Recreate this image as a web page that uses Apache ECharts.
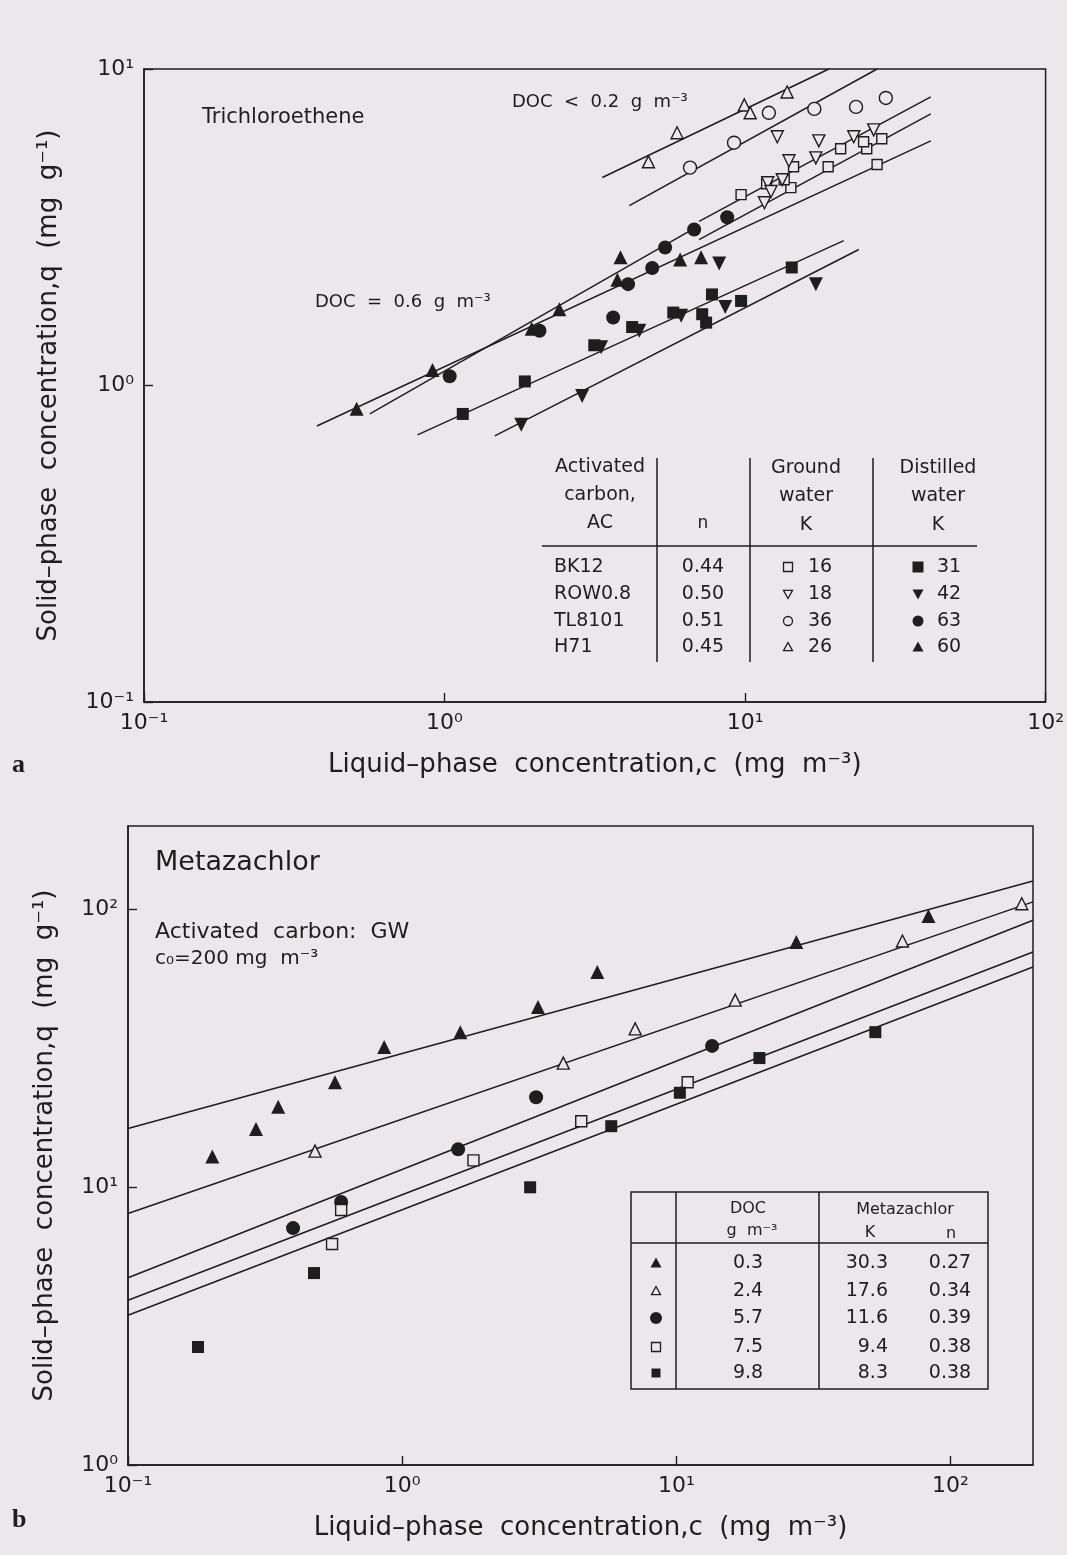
<!DOCTYPE html>
<html>
<head>
<meta charset="utf-8">
<script src="https://cdn.jsdelivr.net/npm/echarts@6/dist/echarts.min.js"></script>
<style>
  html, body { margin: 0; padding: 0; background: #ece7ea; }
  #chart { width: 1067px; height: 1555px; }
</style>
</head>
<body>
<div id="chart"></div>
<script>
// ---------- (a) Trichloroethene: c (mg m^-3), q (mg g^-1) ----------
// ground water, open symbols
const aGwBK12 = [[9.70,4.01],[11.8,4.34],[14.5,4.91],[14.2,4.22],[18.9,4.91],[20.8,5.60],[25.4,5.60],[28.5,6.02],[24.8,5.89],[27.5,4.99],[13.5,4.47]];
const aGwROW  = [[12.8,6.11],[17.6,5.93],[14.0,5.13],[17.2,5.24],[23.0,6.11],[26.8,6.42],[11.9,4.37],[11.6,3.78],[12.2,4.10],[13.3,4.47]];
const aGwTL   = [[6.56,4.88],[9.19,5.85],[12.0,7.27],[17.0,7.48],[23.4,7.59],[29.4,8.10]];
const aGwH71  = [[4.77,5.09],[5.94,6.29],[9.94,7.70],[10.4,7.27],[13.8,8.46]];
// distilled water, filled symbols
const aDwBK12 = [[1.15,0.813],[1.85,1.03],[3.15,1.34],[4.21,1.53],[5.77,1.70],[7.20,1.68],[7.42,1.58],[7.76,1.94],[9.70,1.85],[14.3,2.36]];
const aDwROW  = [[1.80,0.751],[2.87,0.927],[3.32,1.32],[4.45,1.49],[6.13,1.66],[8.59,1.77],[8.20,2.43],[17.2,2.09]];
const aDwTL   = [[1.04,1.07],[2.07,1.49],[3.64,1.64],[4.08,2.09],[4.91,2.35],[5.42,2.73],[6.77,3.11],[8.72,3.40]];
const aDwH71  = [[0.510,0.844],[0.912,1.12],[1.95,1.51],[2.41,1.74],[3.76,2.16],[3.85,2.54],[6.08,2.50],[7.14,2.54]];
// isotherm lines (end points)
const aFitGwH71  = [[3.35,4.54],[19.0,10.0]];
const aFitGwTL   = [[4.12,3.70],[27.5,10.0]];
const aFitGwROW  = [[7.03,3.30],[41.5,8.16]];
const aFitGwBK12 = [[7.03,2.89],[41.5,7.21]];
const aFitDwH71  = [[0.376,0.745],[41.5,5.93]];
const aFitDwTL   = [[0.564,0.813],[7.03,3.20]];
const aFitDwBK12 = [[0.813,0.698],[21.3,2.87]];
const aFitDwROW  = [[1.47,0.693],[23.9,2.69]];
// table
const acNames = ['BK12','ROW0.8','TL8101','H71'];
const acN     = ['0.44','0.50','0.51','0.45'];
const acKgw   = ['16','18','36','26'];
const acKdw   = ['31','42','63','60'];

// ---------- (b) Metazachlor ----------
const bDoc = ['0.3','2.4','5.7','7.5','9.8'];
const bK   = [30.3, 17.6, 11.6, 9.4, 8.3];
const bN   = [0.27, 0.34, 0.39, 0.38, 0.38];
const bDoc03 = [[0.203,12.9],[0.293,16.2],[0.353,19.5],[0.569,23.9],[0.860,32.0],[1.63,36.2],[3.13,44.6],[5.15,59.6],[27.4,76.4],[83.1,94.8]];
const bDoc24 = [[0.481,13.5],[3.87,28.0],[7.08,37.2],[16.4,47.2],[66.8,77.1],[182,105]];
const bDoc57 = [[0.400,7.13],[0.599,8.85],[1.60,13.7],[3.08,21.1],[13.5,32.3]];
const bDoc75 = [[0.555,6.25],[0.599,8.28],[1.82,12.5],[4.50,17.3],[11.0,23.9]];
const bDoc98 = [[0.180,2.66],[0.477,4.91],[2.93,10.0],[5.79,16.6],[10.3,21.9],[20.1,29.2],[53.2,36.2]];
const bCRange = [0.1, 200];

const INK = '#1e1e1e';
const BG = '#ece7ea';
const FONT = 'DejaVu Sans';
const SUP = {'-':'⁻','0':'⁰','1':'¹','2':'²','3':'³'};

function powLabel(v) {
  const e = Math.log10(v), r = Math.round(e);
  if (Math.abs(e - r) > 1e-6) return '';
  return '10' + String(r).split('').map(ch => SUP[ch]).join('');
}

function pts(data, gi, symbol, size, filled, rotate) {
  return {
    type: 'scatter', xAxisIndex: gi, yAxisIndex: gi, data,
    symbol, symbolSize: size, symbolRotate: rotate || 0,
    itemStyle: filled
      ? { color: INK, opacity: 1 }
      : { color: BG, borderColor: INK, borderWidth: 1.4, opacity: 1 },
    z: 4, silent: true
  };
}
function fit(data, gi) {
  return {
    type: 'line', xAxisIndex: gi, yAxisIndex: gi, data,
    symbol: 'none', showSymbol: false, silent: true, z: 3,
    lineStyle: { color: INK, width: 1.5 }
  };
}
function axisBase(gi, min, max, name, nameGap, showMax) {
  return {
    gridIndex: gi, type: 'log', logBase: 10, min, max,
    axisLine: { show: true, lineStyle: { color: INK, width: 1.5 } },
    axisTick: { show: true, inside: true, length: 9, lineStyle: { color: INK, width: 1.4 } },
    minorTick: { show: false }, splitLine: { show: false },
    axisLabel: { formatter: powLabel, fontSize: 22, color: INK, fontFamily: FONT, margin: 10, showMaxLabel: showMax, showMinLabel: true },
    name, nameLocation: 'middle', nameGap,
    nameTextStyle: { fontSize: 26, color: INK, fontFamily: FONT }
  };
}

// Freundlich isotherm lines of (b) from the tabulated K and n
const bFits = bK.map((K, i) => bCRange.map(c => [c, K * Math.pow(c, bN[i])]));

// legend symbols used in the tables
function sym(kind, filled, x, y, s) {
  const style = filled ? { fill: INK } : { fill: 'none', stroke: INK, lineWidth: 1.3 };
  const h = s / 2;
  if (kind === 'rect') return { type: 'rect', shape: { x: x - h, y: y - h, width: s, height: s }, style };
  if (kind === 'circle') return { type: 'circle', shape: { cx: x, cy: y, r: h }, style };
  if (kind === 'tri') return { type: 'polygon', shape: { points: [[x, y - h], [x + h, y + h * 0.8], [x - h, y + h * 0.8]] }, style };
  return { type: 'polygon', shape: { points: [[x - h, y - h * 0.8], [x + h, y - h * 0.8], [x, y + h]] }, style };
}
function txt(text, x, y, size, align, font) {
  return {
    type: 'text', x, y,
    style: { text, fill: INK, font: font || (size + 'px "' + FONT + '"'), align: align || 'left', verticalAlign: 'middle' }
  };
}
function hline(x1, x2, y) { return { type: 'line', shape: { x1, y1: y, x2, y2: y }, style: { stroke: INK, lineWidth: 1.5 } }; }
function vline(x, y1, y2) { return { type: 'line', shape: { x1: x, y1, x2: x, y2 }, style: { stroke: INK, lineWidth: 1.5 } }; }

const graphics = [];
// panel letters
graphics.push(txt('a', 12, 765, 26, 'left', 'bold 26px "Liberation Serif"'));
graphics.push(txt('b', 12, 1520, 26, 'left', 'bold 26px "Liberation Serif"'));
// (a) annotations
graphics.push(txt('Trichloroethene', 202, 118, 21));
graphics.push(txt('DOC  <  0.2  g  m⁻³', 512, 102, 18));
graphics.push(txt('DOC  =  0.6  g  m⁻³', 315, 302, 18));
// (a) table
graphics.push(txt('Activated', 600, 467, 19, 'center'));
graphics.push(txt('carbon,', 600, 495, 19, 'center'));
graphics.push(txt('AC', 600, 523, 19, 'center'));
graphics.push(txt('n', 703, 524, 17, 'center'));
graphics.push(txt('Ground', 806, 468, 19, 'center'));
graphics.push(txt('water', 806, 496, 19, 'center'));
graphics.push(txt('K', 806, 525, 19, 'center'));
graphics.push(txt('Distilled', 938, 468, 19, 'center'));
graphics.push(txt('water', 938, 496, 19, 'center'));
graphics.push(txt('K', 938, 525, 19, 'center'));
graphics.push(vline(657, 458, 662), vline(750, 458, 662), vline(873, 458, 662));
graphics.push(hline(542, 977, 546));
const gwKinds = ['rect', 'tridown', 'circle', 'tri'];
const rowY = [567, 594, 621, 647];
acNames.forEach((nm, i) => {
  const y = rowY[i];
  graphics.push(txt(nm, 554, y, 19));
  graphics.push(txt(acN[i], 703, y, 19, 'center'));
  graphics.push(sym(gwKinds[i], false, 788, y, 9));
  graphics.push(txt(acKgw[i], 808, y, 19));
  graphics.push(sym(gwKinds[i], true, 918, y, 11));
  graphics.push(txt(acKdw[i], 937, y, 19));
});
// (b) annotations
graphics.push(txt('Metazachlor', 155, 863, 27));
graphics.push(txt('Activated  carbon:  GW', 155, 932, 22));
graphics.push(txt('c₀=200 mg  m⁻³', 155, 959, 20));
// (b) table
graphics.push({ type: 'rect', shape: { x: 631, y: 1192, width: 357, height: 197 }, style: { fill: 'none', stroke: INK, lineWidth: 1.5 } });
graphics.push(vline(676, 1192, 1389), vline(819, 1192, 1389));
graphics.push(hline(631, 988, 1243));
graphics.push(txt('DOC', 748, 1209, 16, 'center'));
graphics.push(txt('g  m⁻³', 752, 1231, 16, 'center'));
graphics.push(txt('Metazachlor', 905, 1210, 16, 'center'));
graphics.push(txt('K', 870, 1233, 16, 'center'));
graphics.push(txt('n', 951, 1234, 16, 'center'));
const bKinds = [['tri', true, 11], ['tri', false, 9], ['circle', true, 12], ['rect', false, 9], ['rect', true, 9]];
const bRowY = [1263, 1291, 1318, 1347, 1373];
bDoc.forEach((d, i) => {
  const y = bRowY[i];
  graphics.push(sym(bKinds[i][0], bKinds[i][1], 656, y, bKinds[i][2]));
  graphics.push(txt(d, 748, y, 19, 'center'));
  graphics.push(txt(bK[i].toFixed(1), 888, y, 19, 'right'));
  graphics.push(txt(bN[i].toFixed(2), 950, y, 19, 'center'));
});

const chart = echarts.init(document.getElementById('chart'), null, { renderer: 'canvas' });
chart.setOption({
  backgroundColor: BG,
  animation: false,
  grid: [
    { left: 144, right: 20, top: 69, bottom: 853, show: true, borderColor: INK, borderWidth: 1.5, backgroundColor: 'transparent' },
    { left: 128, right: 34, top: 826, bottom: 90, show: true, borderColor: INK, borderWidth: 1.5, backgroundColor: 'transparent' }
  ],
  xAxis: [
    axisBase(0, 0.1, 100, 'Liquid–phase  concentration,c  (mg  m⁻³)', 50, true),
    axisBase(1, 0.1, 200, 'Liquid–phase  concentration,c  (mg  m⁻³)', 50, false)
  ],
  yAxis: [
    axisBase(0, 0.1, 10, 'Solid–phase  concentration,q  (mg  g⁻¹)', 82, true),
    axisBase(1, 1, 200, 'Solid–phase  concentration,q  (mg  g⁻¹)', 70, false)
  ],
  series: [
    fit(aFitGwH71, 0), fit(aFitGwTL, 0), fit(aFitGwROW, 0), fit(aFitGwBK12, 0),
    fit(aFitDwH71, 0), fit(aFitDwTL, 0), fit(aFitDwBK12, 0), fit(aFitDwROW, 0),
    pts(aGwBK12, 0, 'rect', 10, false),
    pts(aGwROW, 0, 'triangle', 12, false, 180),
    pts(aGwTL, 0, 'circle', 13, false),
    pts(aGwH71, 0, 'triangle', 12, false),
    pts(aDwBK12, 0, 'rect', 12, true),
    pts(aDwROW, 0, 'triangle', 14, true, 180),
    pts(aDwTL, 0, 'circle', 14, true),
    pts(aDwH71, 0, 'triangle', 14, true),
    ...bFits.map(d => fit(d, 1)),
    pts(bDoc03, 1, 'triangle', 14, true),
    pts(bDoc24, 1, 'triangle', 12, false),
    pts(bDoc57, 1, 'circle', 14, true),
    pts(bDoc75, 1, 'rect', 11, false),
    pts(bDoc98, 1, 'rect', 12, true)
  ],
  graphic: graphics
});
</script>
</body>
</html>
